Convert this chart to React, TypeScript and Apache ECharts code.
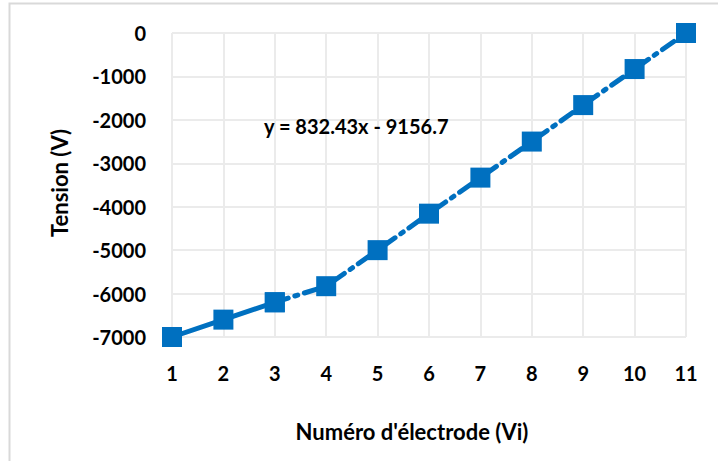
import React, { useEffect, useRef } from "react";
import * as echarts from "echarts";

const electrodes = ["1", "2", "3", "4", "5", "6", "7", "8", "9", "10", "11"];
const solidPart = [-7000, -6600, -6200];
const dashedPart = [-6200, -5830, -5000, -4160, -3330, -2500, -1660, -830, 0];
const equation = "y = 832.43x - 9156.7";
const yTitle = "Tension (V)";
const xTitle = "Numéro d'électrode (Vi)";

const BLUE = "#0070C0";
const FONT = "Lato, 'Open Sans', sans-serif";

export default function App() {
  const ref = useRef<HTMLDivElement>(null);
  useEffect(() => {
    if (!ref.current) return;
    const chart = echarts.init(ref.current, undefined, { renderer: "svg" });
    const solidData = electrodes.map((_, i) => (i < solidPart.length ? solidPart[i] : null));
    const dashedData = electrodes.map((_, i) => {
      const j = i - (solidPart.length - 1);
      return j >= 0 && j < dashedPart.length ? dashedPart[j] : null;
    });
    chart.setOption({
      animation: false,
      backgroundColor: "#ffffff",
      grid: { left: 172, right: 32, top: 33, bottom: 124, containLabel: false },
      xAxis: {
        type: "category",
        data: electrodes,
        boundaryGap: false,
        axisLine: { show: false },
        axisTick: { show: false },
        splitLine: { show: true, lineStyle: { color: "#ebebeb", width: 2 } },
        axisLabel: {
          margin: 26,
          fontFamily: FONT,
          fontWeight: "bold",
          fontSize: 20,
          color: "#000",
        },
      },
      yAxis: {
        type: "value",
        min: -7000,
        max: 0,
        interval: 1000,
        axisLine: { show: false },
        axisTick: { show: false },
        splitLine: { show: true, lineStyle: { color: "#ebebeb", width: 2 } },
        axisLabel: {
          margin: 26,
          fontFamily: FONT,
          fontWeight: "bold",
          fontSize: 20,
          color: "#000",
          formatter: (v: number) => String(v),
        },
      },
      series: [
        {
          type: "line",
          data: solidData,
          symbol: "rect",
          symbolSize: 20,
          itemStyle: { color: BLUE },
          lineStyle: { color: BLUE, width: 5 },
          z: 3,
        },
        {
          type: "line",
          data: dashedData,
          symbol: "rect",
          symbolSize: 20,
          itemStyle: { color: BLUE },
          lineStyle: { color: BLUE, width: 5, type: [14, 7, 3, 7], cap: "round" },
          z: 2,
        },
      ],
      graphic: [
        {
          type: "rect",
          shape: { x: 9.5, y: 3.5, width: 900, height: 600 },
          style: { fill: "none", stroke: "#d9d9d9", lineWidth: 2 },
          silent: true,
          z: 100,
        },
        {
          type: "text",
          x: 264,
          y: 126,
          z: 100,
          style: {
            text: equation,
            fontFamily: FONT,
            fontWeight: "bold",
            fontSize: 20,
            fill: "#000",
            verticalAlign: "middle",
            align: "left",
          },
        },
        {
          type: "text",
          x: 412,
          y: 431,
          z: 100,
          style: {
            text: xTitle,
            fontFamily: FONT,
            fontWeight: "bold",
            fontSize: 22,
            fill: "#000",
            verticalAlign: "middle",
            align: "center",
          },
        },
        {
          type: "text",
          x: 59,
          y: 183,
          rotation: Math.PI / 2,
          z: 100,
          style: {
            text: yTitle,
            fontFamily: FONT,
            fontWeight: "bold",
            fontSize: 22,
            fill: "#000",
            verticalAlign: "middle",
            align: "center",
          },
        },
      ],
    });
    return () => chart.dispose();
  }, []);
  return (
    <div
      ref={ref}
      style={{ position: "fixed", left: 0, top: 0, width: 718, height: 461 }}
    />
  );
}
